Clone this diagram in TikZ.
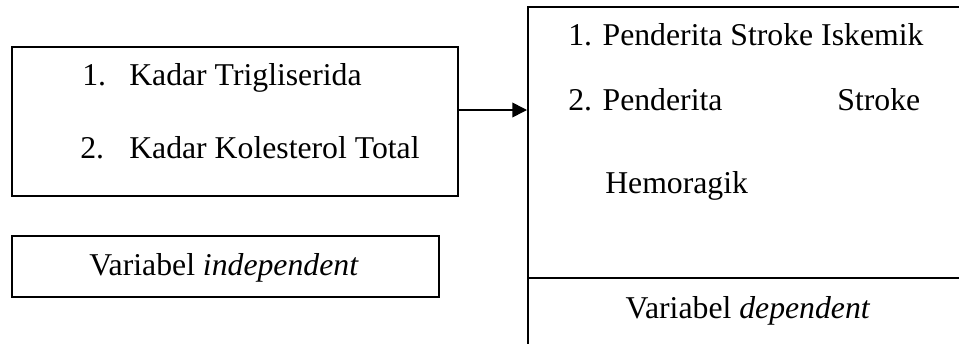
\documentclass[tikz,border=0pt]{standalone}
\usepackage{fontspec}
\setmainfont{Liberation Serif}
\usetikzlibrary{arrows.meta}
\begin{document}
\begin{tikzpicture}[x=0.75pt,y=-0.75pt,
  box/.style={draw, line width=1.2pt, inner sep=0pt, anchor=north west},
  txt/.style={anchor=base west, inner sep=0pt, font=\fontsize{23.8}{28}\selectfont},
  ctxt/.style={anchor=base, inner sep=0pt, font=\fontsize{23.8}{28}\selectfont},
  conn/.style={line width=1.2pt, -{Triangle[length=11pt,width=11pt]}}]
\useasboundingbox (0,0) rectangle (959,343);
\node[box, minimum width=334.5pt, minimum height=111.75pt] (box1) at (11,46) {};
\node[box, minimum width=320.25pt, minimum height=45.75pt] (box2) at (11,235) {};
\node[box, minimum width=326.25pt, minimum height=258pt] (rbox) at (527,6) {};
\draw[line width=1.2pt] (rbox.west |- 0,278) -- (rbox.east |- 0,278);
\coordinate (ar) at (0,110);
\draw[conn] (box1.east |- ar) -- (rbox.west |- ar);
\node[txt] (t1) at (82,85) {\makebox[35.25pt][l]{1.}Kadar Trigliserida};
\node[txt] (t2) at (80,158) {\makebox[36.75pt][l]{2.}Kadar Kolesterol Total};
\node[ctxt] (t3) at (224,275) {Variabel \textit{independent}};
\node[txt] (r1) at (568,45) {1. Penderita Stroke Iskemik};
\node[txt] (r2) at (568,110) {\makebox[264pt][l]{2. Penderita\hfill Stroke}};
\node[txt] (r3) at (605,193) {Hemoragik};
\node[ctxt] (r4) at (748,318) {Variabel \textit{dependent}};
\end{tikzpicture}
\end{document}
